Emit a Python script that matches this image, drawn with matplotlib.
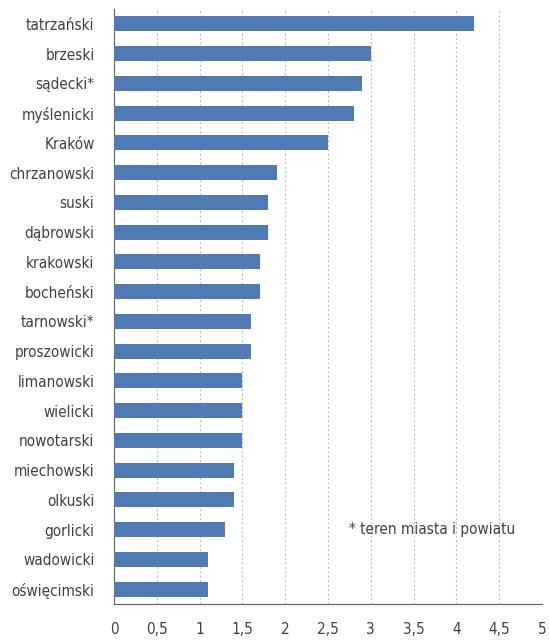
import matplotlib
matplotlib.use('Agg')
import matplotlib.pyplot as plt

powiaty = ['tatrzański', 'brzeski', 'sądecki*', 'myślenicki', 'Kraków', 'chrzanowski',
           'suski', 'dąbrowski', 'krakowski', 'bocheński', 'tarnowski*', 'proszowicki',
           'limanowski', 'wielicki', 'nowotarski', 'miechowski', 'olkuski', 'gorlicki',
           'wadowicki', 'oświęcimski']
wartosci = [4.2, 3.0, 2.9, 2.8, 2.5, 1.9, 1.8, 1.8, 1.7, 1.7, 1.6, 1.6,
            1.5, 1.5, 1.5, 1.4, 1.4, 1.3, 1.1, 1.1]
xticks = [0, 0.5, 1, 1.5, 2, 2.5, 3, 3.5, 4, 4.5, 5]
xlabels = ['0', '0,5', '1', '1,5', '2', '2,5', '3', '3,5', '4', '4,5', '5']

plt.rcParams['font.family'] = ['DejaVu Sans']
plt.rcParams['font.stretch'] = 'condensed'
txt = '#404040'
fs = 11

fig = plt.figure(figsize=(5.49, 6.41), dpi=100)
ax = fig.add_axes([114/549, 1-604/641, (542-114)/549, (604-9)/641])

y = list(range(len(powiaty)))
ax.barh(y, wartosci, height=0.5, color='#4F7AB4', zorder=3)
ax.set_ylim(len(powiaty)-0.5, -0.5)
ax.set_xlim(0, 5)
ax.set_yticks(y)
ax.set_yticklabels(powiaty, fontsize=fs, color=txt, fontstretch='condensed')
ax.set_xticks(xticks)
ax.set_xticklabels(xlabels, fontsize=fs, color=txt, fontstretch='condensed')
ax.tick_params(axis='both', length=0)
ax.tick_params(axis='y', pad=14)
ax.tick_params(axis='x', pad=13)
ax.grid(axis='x', color='#bfbfbf', linestyle=(0, (2, 2)), linewidth=0.8, zorder=0)
for s in ['top', 'right']:
    ax.spines[s].set_visible(False)
ax.spines['left'].set_color('#606060')
ax.spines['bottom'].set_color('#606060')

ax.text(2.74, 17.0, '* teren miasta i powiatu', fontsize=fs, color=txt, va='center',
        fontstretch='condensed')

fig.savefig('out.png', dpi=100)
